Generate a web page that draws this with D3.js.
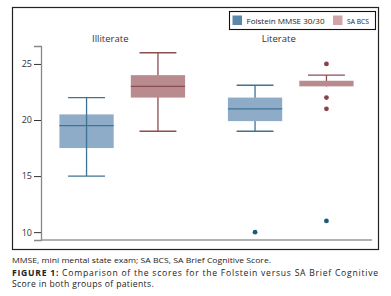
<!DOCTYPE html>
<html>
<head>
<meta charset="utf-8">
<script src="https://cdn.jsdelivr.net/npm/d3@7"></script>
<style>
  body { margin: 0; background: #fff; }
  svg text { font-family: "Open Sans", "Noto Sans", sans-serif; }
</style>
</head>
<body>
<div id="chart"></div>
<script>
// chart data
const groups = ["Illiterate", "Literate"];
const seriesNames = ["Folstein MMSE 30/30", "SA BCS"];
// [low whisker, q1, median, q3, high whisker] per group
const folsteinStats = [[15, 17.5, 19.5, 20.5, 22], [19, 19.9, 21, 22, 23.1]];
const bcsStats = [[19, 22, 23, 24, 26], [23, 23, 23, 23.5, 24]];
const folsteinOutliers = [[], [10]];
const bcsOutliers = [[], [25, 22, 21, 11]];
const yTicks = [10, 15, 20, 25];

const width = 391, height = 296;
const svg = d3.select("#chart").append("svg")
    .attr("width", width)
    .attr("height", height);

// frame
svg.append("rect")
    .attr("x", 12.5).attr("y", 7.5)
    .attr("width", 366).attr("height", 242)
    .attr("fill", "none")
    .attr("stroke", "#222")
    .attr("stroke-width", 1.2);

const y = d3.scaleLinear().domain([9.3, 26.6]).range([240, 46]);
const x0 = d3.scaleBand().domain(groups).range([38, 375]);
const x1 = d3.scaleBand().domain(seriesNames).range([0, x0.bandwidth()]).paddingInner(0.24).paddingOuter(0.3);

const fills = ["#8eabc7", "#b98b8e"];
const strokes = ["#3f7393", "#8c4d53"];
const dotColors = ["#1f5a7a", "#8c4048"];

// y axis
const yAxis = svg.append("g")
    .attr("transform", "translate(41,0)")
    .call(d3.axisLeft(y).tickValues(yTicks).tickSize(7).tickPadding(2));
yAxis.select(".domain").attr("stroke", "#888").attr("stroke-width", 1.3);
yAxis.selectAll(".tick line").attr("stroke", "#333");
yAxis.selectAll(".tick text").attr("font-size", 9).attr("fill", "#333");

// x axis line
svg.append("line")
    .attr("x1", 41).attr("x2", 372)
    .attr("y1", 240).attr("y2", 240)
    .attr("stroke", "#999").attr("stroke-width", 1.3);

// group labels
svg.selectAll(".glabel")
    .data(groups)
    .join("text")
    .attr("x", d => x0(d) + x0.bandwidth() / 2 - 12)
    .attr("y", 42)
    .attr("text-anchor", "middle")
    .attr("font-size", 9.5)
    .attr("fill", "#333")
    .text(d => d);

const allStats = [folsteinStats, bcsStats];
const allOutliers = [folsteinOutliers, bcsOutliers];

seriesNames.forEach(function(s, si) {
    groups.forEach(function(g, gi) {
        const st = allStats[si][gi];
        const bx = x0(g) + x1(s);
        const bw = x1.bandwidth();
        const cx = bx + bw / 2;
        const capW = bw * 0.68;
        const grp = svg.append("g");

        // whisker stem
        grp.append("line")
            .attr("x1", cx).attr("x2", cx)
            .attr("y1", y(st[0])).attr("y2", y(st[4]))
            .attr("stroke", strokes[si]).attr("stroke-width", 1.3);
        // caps
        [st[0], st[4]].forEach(function(v) {
            if (v === st[1] || v === st[3]) return;
            grp.append("line")
                .attr("x1", cx - capW / 2).attr("x2", cx + capW / 2)
                .attr("y1", y(v)).attr("y2", y(v))
                .attr("stroke", strokes[si]).attr("stroke-width", 1.3);
        });
        // box
        grp.append("rect")
            .attr("x", bx).attr("width", bw)
            .attr("y", y(st[3])).attr("height", y(st[1]) - y(st[3]))
            .attr("fill", fills[si]);
        // median (hidden when it sits on the box edge)
        if (st[2] !== st[1]) {
            grp.append("line")
                .attr("x1", bx).attr("x2", bx + bw)
                .attr("y1", y(st[2])).attr("y2", y(st[2]))
                .attr("stroke", strokes[si]).attr("stroke-width", 1.3);
        }
        // stem through folstein box (like reference)
        if (si === 0 && gi === 0) {
            grp.append("line")
                .attr("x1", cx).attr("x2", cx)
                .attr("y1", y(st[3])).attr("y2", y(st[1]))
                .attr("stroke", strokes[si]).attr("stroke-width", 1.3);
        }
        // outliers
        grp.selectAll("circle")
            .data(allOutliers[si][gi])
            .join("circle")
            .attr("cx", cx)
            .attr("cy", d => y(d))
            .attr("r", 2.4)
            .attr("fill", d => d < 15 ? dotColors[0] : dotColors[si]);
    });
});

// legend
const legend = svg.append("g");
legend.append("rect")
    .attr("x", 229.5).attr("y", 11.5)
    .attr("width", 146).attr("height", 18)
    .attr("fill", "#fff").attr("stroke", "#111").attr("stroke-width", 1.1);
const legendX = [232.5, 333];
const legendLen = [78, 22];
const legendFills = ["#5a88aa", "#cfa5aa"];
seriesNames.forEach(function(s, i) {
    legend.append("rect")
        .attr("x", legendX[i]).attr("y", 15.5)
        .attr("width", 9.5).attr("height", 9.5)
        .attr("fill", legendFills[i]);
    legend.append("text")
        .attr("x", legendX[i] + 14).attr("y", 23.5)
        .attr("font-size", 8)
        .attr("fill", "#222")
        .attr("textLength", legendLen[i])
        .attr("lengthAdjust", "spacingAndGlyphs")
        .text(s);
});

// caption
svg.append("text")
    .attr("x", 12).attr("y", 263)
    .attr("font-size", 7.8)
    .attr("fill", "#222")
    .attr("textLength", 259)
    .attr("lengthAdjust", "spacingAndGlyphs")
    .text("MMSE, mini mental state exam; SA BCS, SA Brief Cognitive Score.");
svg.append("text")
    .attr("x", 12).attr("y", 276)
    .attr("font-size", 8.6)
    .attr("fill", "#222")
    .attr("textLength", 366)
    .attr("lengthAdjust", "spacing")
    .html('<tspan font-weight="bold">FIGURE 1:</tspan> Comparison of the scores for the Folstein versus SA Brief Cognitive');
svg.append("text")
    .attr("x", 12).attr("y", 287)
    .attr("font-size", 8.6)
    .attr("fill", "#222")
    .attr("letter-spacing", 0.35)
    .text("Score in both groups of patients.");
</script>
</body>
</html>
